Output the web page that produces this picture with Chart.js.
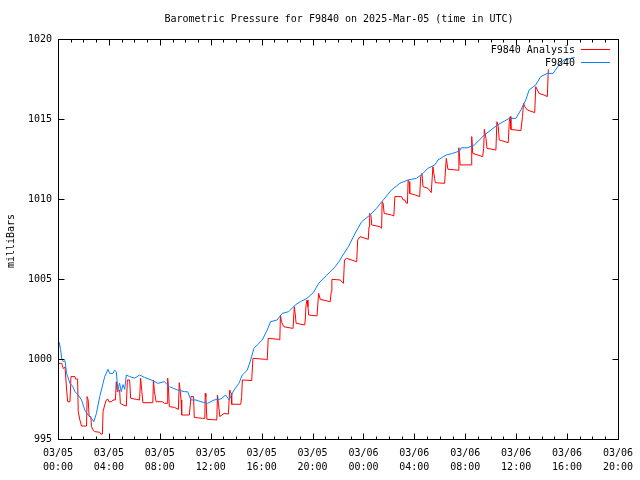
<!DOCTYPE html>
<html>
<head>
<meta charset="utf-8">
<script src="https://cdn.jsdelivr.net/npm/chart.js@4"></script>
<style>
    body { margin: 0; background: #ffffff; }
</style>
</head>
<body>
<canvas id="chart" width="640" height="480"></canvas>
<script>
// hours since 03/05 00:00 UTC
const stationHours = [0.0, 0.02, 0.1, 0.2, 0.3, 0.42, 0.55, 0.68, 0.94, 1.15, 1.33, 1.59, 1.85, 2.11, 2.37, 2.63, 2.81, 3.02, 3.28, 3.54, 3.67, 3.93, 4.06, 4.32, 4.45, 4.58, 4.71, 4.84, 4.97, 5.11, 5.24, 5.37, 5.63, 6.02, 6.41, 6.8, 7.32, 7.84, 8.36, 8.75, 9.4, 9.92, 10.19, 10.45, 10.84, 11.23, 11.75, 12.27, 12.79, 13.18, 13.44, 13.83, 14.22, 14.48, 14.87, 15.14, 15.4, 15.66, 16.05, 16.44, 16.7, 17.22, 17.61, 18.13, 18.65, 19.04, 19.56, 20.09, 20.48, 20.73, 21.13, 21.52, 21.78, 22.17, 22.3, 22.82, 23.34, 23.86, 24.52, 25.03, 25.56, 26.2, 26.86, 27.51, 28.16, 28.68, 29.07, 29.6, 29.86, 30.51, 31.0, 31.55, 31.68, 32.2, 32.72, 33.5, 34.54, 35.46, 35.98, 36.37, 36.76, 37.02, 37.54, 37.93, 38.45, 38.9, 39.37, 39.76, 40.27, 40.6];
const stationValues = [1000.3, 1000.6, 1001.04, 1000.6, 1000.0, 999.83, 999.9, 999.1, 998.48, 998.3, 997.96, 997.75, 997.44, 996.8, 996.5, 996.3, 996.08, 996.6, 997.65, 998.48, 998.9, 999.35, 999.1, 999.1, 999.3, 999.2, 998.06, 998.5, 997.96, 998.4, 998.1, 999.0, 998.9, 998.8, 999.0, 998.85, 998.69, 998.48, 998.58, 998.27, 998.06, 997.96, 997.95, 997.44, 997.44, 997.33, 997.23, 997.44, 997.5, 997.75, 997.44, 998.06, 998.48, 999.0, 999.3, 999.94, 1000.67, 1000.88, 1001.19, 1001.81, 1002.33, 1002.44, 1002.85, 1002.96, 1003.38, 1003.58, 1003.79, 1004.17, 1004.73, 1004.94, 1005.25, 1005.56, 1005.77, 1006.19, 1006.39, 1007.02, 1007.85, 1008.58, 1009.0, 1009.42, 1009.94, 1010.56, 1010.98, 1011.19, 1011.29, 1011.6, 1011.92, 1012.12, 1012.44, 1012.75, 1012.85, 1013.0, 1013.2, 1013.2, 1013.38, 1014.0, 1014.63, 1015.04, 1015.04, 1015.56, 1016.19, 1016.81, 1017.13, 1017.65, 1017.85, 1017.85, 1018.38, 1018.69, 1018.79, 1018.85];

const analysisHours = [0.0, 0.29, 0.42, 0.55, 0.68, 0.76, 0.94, 1.02, 1.33, 1.38, 1.54, 1.59, 1.72, 1.85, 2.24, 2.29, 2.37, 2.45, 2.58, 2.63, 2.76, 2.89, 3.28, 3.36, 3.49, 3.54, 3.67, 3.8, 3.93, 4.01, 4.19, 4.32, 4.51, 4.58, 4.66, 4.84, 4.9, 5.11, 5.37, 5.45, 5.63, 5.71, 6.15, 6.41, 6.49, 6.59, 6.67, 7.45, 7.5, 7.58, 7.71, 8.23, 8.36, 8.57, 8.62, 8.67, 8.75, 9.14, 9.46, 9.53, 9.61, 9.67, 9.72, 10.32, 10.45, 10.65, 10.71, 11.36, 11.54, 11.57, 11.62, 11.7, 12.48, 12.53, 12.61, 12.71, 13.05, 13.39, 13.49, 13.6, 13.65, 14.36, 14.43, 14.49, 15.22, 15.32, 16.31, 16.44, 16.52, 17.35, 17.43, 17.48, 17.56, 17.74, 18.39, 18.47, 18.57, 18.65, 18.71, 19.38, 19.43, 19.49, 19.57, 19.64, 19.7, 20.35, 20.48, 20.61, 21.39, 21.47, 21.52, 22.17, 22.43, 22.51, 22.69, 23.47, 23.55, 23.73, 24.38, 24.44, 24.49, 24.59, 24.65, 25.3, 25.43, 25.47, 25.55, 25.63, 26.21, 26.39, 26.47, 26.99, 27.12, 27.25, 27.38, 27.46, 27.51, 27.59, 27.64, 28.08, 28.42, 28.5, 28.6, 28.68, 29.07, 29.33, 29.46, 29.59, 29.65, 30.38, 30.51, 30.64, 31.45, 31.5, 31.6, 32.46, 32.51, 32.59, 33.37, 33.45, 33.5, 33.63, 33.71, 34.41, 34.49, 34.6, 34.67, 35.38, 35.46, 35.53, 35.59, 36.37, 36.5, 36.58, 36.68, 36.89, 37.46, 37.54, 37.67, 37.8, 38.19, 38.45, 38.53];
const analysisValues = [999.73, 999.73, 999.4, 999.5, 998.06, 997.33, 997.33, 998.9, 998.9, 998.75, 998.75, 996.7, 996.19, 995.81, 995.81, 997.65, 997.44, 996.4, 996.4, 995.77, 995.56, 995.46, 995.42, 995.31, 995.31, 996.7, 997.13, 997.44, 997.48, 997.33, 997.33, 997.44, 997.44, 998.58, 997.96, 998.06, 997.23, 997.13, 997.06, 998.69, 998.69, 997.54, 997.48, 997.44, 998.8, 997.96, 997.27, 997.27, 998.69, 997.96, 997.33, 997.33, 997.23, 997.23, 998.8, 998.3, 997.02, 996.98, 996.85, 998.52, 997.96, 997.44, 996.5, 996.5, 997.65, 997.65, 996.35, 996.29, 996.29, 997.85, 997.65, 996.23, 996.19, 997.75, 997.23, 996.4, 996.6, 996.56, 998.06, 997.85, 997.17, 997.17, 997.65, 998.69, 998.65, 1000.04, 999.98, 999.94, 1001.29, 1001.23, 1001.19, 1002.75, 1002.33, 1002.02, 1001.92, 1001.92, 1003.27, 1002.75, 1002.23, 1002.13, 1002.44, 1003.38, 1003.69, 1003.27, 1002.75, 1002.69, 1004.1, 1003.73, 1003.58, 1004.21, 1004.98, 1004.94, 1004.73, 1006.19, 1006.29, 1006.08, 1007.44, 1007.65, 1007.48, 1008.27, 1009.1, 1008.98, 1008.38, 1008.27, 1008.17, 1009.83, 1009.73, 1009.1, 1009.0, 1008.94, 1010.15, 1010.15, 1009.94, 1009.94, 1009.73, 1009.73, 1011.19, 1011.08, 1010.35, 1010.25, 1010.15, 1011.4, 1011.6, 1010.77, 1010.67, 1010.4, 1012.02, 1011.29, 1011.02, 1010.98, 1012.54, 1011.86, 1011.8, 1013.2, 1012.13, 1012.13, 1013.9, 1012.85, 1012.65, 1013.17, 1014.35, 1013.79, 1013.17, 1013.06, 1014.83, 1014.52, 1013.69, 1013.52, 1014.83, 1015.15, 1014.35, 1014.27, 1015.15, 1015.98, 1015.77, 1015.56, 1015.4, 1017.02, 1016.81, 1016.6, 1016.5, 1016.4, 1018.1];

// tick labels, one per 4 hours
const tickDates = ['03/05', '03/05', '03/05', '03/05', '03/05', '03/05', '03/06', '03/06', '03/06', '03/06', '03/06', '03/06'];
const tickTimes = ['00:00', '04:00', '08:00', '12:00', '16:00', '20:00', '00:00', '04:00', '08:00', '12:00', '16:00', '20:00'];

const titleText = 'Barometric Pressure for F9840 on 2025-Mar-05 (time in UTC)';
const yTitle = 'milliBars';
const seriesNames = ['F9840 Analysis', 'F9840'];
const seriesColors = ['#ff0000', '#0a80ff'];

const FONT = "10px 'DejaVu Sans Mono', monospace";

Chart.defaults.font.family = "'DejaVu Sans Mono', monospace";
Chart.defaults.font.size = 10;
Chart.defaults.color = '#000000';

function toPoints(xs, ys) {
    return xs.map((x, i) => ({ x: x, y: ys[i] }));
}

// 边框、内向刻度、标题、图例
const gnuplotLook = {
    id: 'gnuplotLook',
    afterDatasetsDraw(chart) {
        const ctx = chart.ctx;
        const ca = chart.chartArea;
        const xs = chart.scales.x;
        const ys = chart.scales.y;
        const L = Math.round(ca.left) + 0.5, R = Math.round(ca.right) + 0.5;
        const T = Math.round(ca.top) + 0.5, B = Math.round(ca.bottom) + 0.5;
        ctx.save();
        ctx.strokeStyle = '#000000';
        ctx.lineWidth = 1;
        ctx.beginPath();
        for (let h = 0; h <= 44; h++) {
            const px = Math.round(xs.getPixelForValue(h)) + 0.5;
            const len = h % 4 === 0 ? 6 : 3;
            ctx.moveTo(px, B); ctx.lineTo(px, B - len);
            ctx.moveTo(px, T); ctx.lineTo(px, T + len);
        }
        for (let v = 995; v <= 1020; v += 5) {
            const py = Math.round(ys.getPixelForValue(v)) + 0.5;
            ctx.moveTo(L, py); ctx.lineTo(L + 6, py);
            ctx.moveTo(R, py); ctx.lineTo(R - 6, py);
        }
        ctx.stroke();
        ctx.strokeRect(L, T, R - L, B - T);

        ctx.font = FONT;
        ctx.fillStyle = '#000000';
        ctx.textBaseline = 'middle';
        ctx.textAlign = 'center';
        ctx.fillText(titleText, 339, 19);

        // 图例
        ctx.textAlign = 'right';
        const rows = [50, 63];
        seriesNames.forEach((name, i) => {
            ctx.fillStyle = '#000000';
            ctx.fillText(name, 575, rows[i]);
            ctx.strokeStyle = seriesColors[i];
            ctx.beginPath();
            ctx.moveTo(581, rows[i] - 0.5);
            ctx.lineTo(610, rows[i] - 0.5);
            ctx.stroke();
        });

        // y轴标题
        ctx.translate(11, 241);
        ctx.rotate(-Math.PI / 2);
        ctx.textAlign = 'center';
        ctx.fillStyle = '#000000';
        ctx.fillText(yTitle, 0, 0);
        ctx.restore();
    }
};

new Chart(document.getElementById('chart'), {
    type: 'line',
    data: {
        datasets: [{
            label: seriesNames[0],
            data: toPoints(analysisHours, analysisValues),
            borderColor: seriesColors[0],
            borderWidth: 1,
            pointRadius: 0,
            tension: 0,
            order: 1
        }, {
            label: seriesNames[1],
            data: toPoints(stationHours, stationValues),
            borderColor: seriesColors[1],
            borderWidth: 1,
            pointRadius: 0,
            tension: 0,
            order: 0
        }]
    },
    options: {
        responsive: false,
        animation: false,
        devicePixelRatio: 1,
        layout: { padding: { top: 39, right: 19, left: 0, bottom: 0 } },
        plugins: {
            legend: { display: false },
            title: { display: false },
            tooltip: { enabled: false }
        },
        scales: {
            x: {
                type: 'linear',
                min: 0,
                max: 44,
                grid: { display: false, drawTicks: false },
                border: { display: false },
                ticks: {
                    stepSize: 4,
                    autoSkip: false,
                    maxRotation: 0,
                    padding: 7,
                    font: { size: 10, lineHeight: 1.4 },
                    callback: (v) => {
                        const i = Math.round(v / 4);
                        return [tickDates[i], tickTimes[i]];
                    }
                },
                afterFit: (scale) => { scale.height = 41; }
            },
            y: {
                min: 995,
                max: 1020,
                grid: { display: false, drawTicks: false },
                border: { display: false },
                ticks: { stepSize: 5, padding: 6, callback: (v) => String(v) },
                afterFit: (scale) => { scale.width = 58; }
            }
        }
    },
    plugins: [gnuplotLook]
});
</script>
</body>
</html>
